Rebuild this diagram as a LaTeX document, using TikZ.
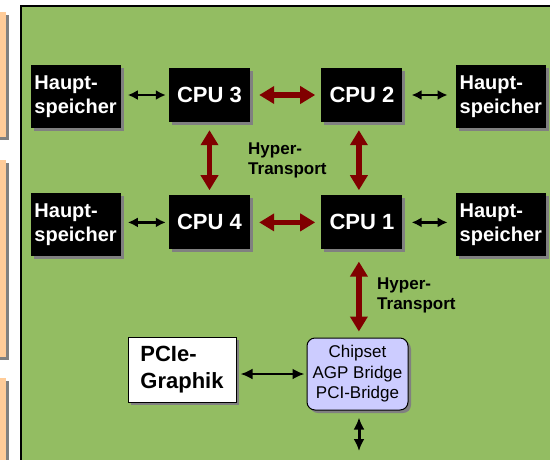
\documentclass[tikz,border=0pt]{standalone}
\usepackage{fontspec}
\setmainfont{Liberation Sans}
\usetikzlibrary{arrows.meta,shadows,positioning}

\definecolor{board}{RGB}{147,189,98}
\definecolor{panel}{RGB}{255,204,153}
\definecolor{htred}{RGB}{128,0,0}
\definecolor{chipfill}{RGB}{204,204,255}

\begin{document}
\begin{tikzpicture}[x=1pt,y=-1pt,node distance=10pt]
\tikzstyle{shade}=[drop shadow={shadow xshift=3pt,shadow yshift=-3pt,opacity=1,fill=gray}]
\tikzstyle{cpu}=[shade,fill=black,text=white,font=\fontsize{22}{26}\selectfont\bfseries,minimum width=81pt,minimum height=54pt,inner sep=0pt]
\tikzstyle{memory}=[shade,fill=black,text=white,font=\fontsize{20}{24}\selectfont\bfseries,align=left,minimum width=90pt,minimum height=63pt,inner sep=0pt]
\tikzstyle{ht}=[htred,line width=5.5pt,{Triangle[length=15pt,width=17pt]}-{Triangle[length=15pt,width=17pt]}]
\tikzstyle{link}=[line width=2.5pt,{Latex[length=10pt,width=10pt]}-{Latex[length=10pt,width=10pt]}]
\tikzstyle{htlabel}=[font=\fontsize{17}{20}\selectfont\bfseries,align=left,inner sep=0pt,anchor=west]

\useasboundingbox (0,0) rectangle (550,459);

% panels on the left and the board
\fill[panel,shade] (-5,12) rectangle (6,137);
\fill[panel,shade] (-5,160) rectangle (6,357);
\fill[panel,shade] (-5,378) rectangle (6,480);
\draw[fill=board,line width=1.5pt] (21,6) rectangle (580,490);

\node[cpu] (cpu3) at (209.5,95) {CPU 3};
\node[cpu,right=71pt of cpu3] (cpu2) {CPU 2};
\node[cpu,below=73pt of cpu3] (cpu4) {CPU 4};
\node[cpu,below=73pt of cpu2] (cpu1) {CPU 1};

\node[memory,left=48pt of cpu3,yshift=-1.5pt] (mem3) {Haupt-\\speicher};
\node[memory,right=53pt of cpu2,yshift=-1.5pt] (mem2) {Haupt-\\speicher};
\node[memory,left=48pt of cpu4,yshift=-2pt] (mem4) {Haupt-\\speicher};
\node[memory,right=53pt of cpu1,yshift=-2pt] (mem1) {Haupt-\\speicher};

\node[shade,draw,fill=white,line width=1pt,font=\fontsize{22}{26.5}\selectfont\bfseries,align=left,minimum width=108pt,minimum height=65pt,inner sep=0pt] (gfx) at (182,369.5) {PCIe-\\Graphik};
\node[shade,draw,fill=chipfill,rounded corners=8pt,line width=1pt,font=\fontsize{17}{20.5}\selectfont,align=center,minimum width=101pt,minimum height=72pt,inner sep=0pt] (chipset) at (357.5,374) {Chipset\\AGP Bridge\\PCI-Bridge};
\coordinate (pci) at (359,451);

\node[htlabel] (ht1) at (248,160) {Hyper-\\Transport};
\node[htlabel] (ht2) at (377,295) {Hyper-\\Transport};

% HyperTransport links
\draw[ht,shorten <=9pt,shorten >=6pt] (cpu3) -- (cpu2);
\draw[ht,shorten <=9pt,shorten >=6pt] (cpu4) -- (cpu1);
\draw[ht,shorten <=8pt,shorten >=5pt] (cpu3) -- (cpu4);
\draw[ht,shorten <=8pt,shorten >=5pt] ([xshift=-3pt]cpu2.south) -- ([xshift=-3pt]cpu1.north);
\draw[ht,shorten <=12pt,shorten >=6pt] ([xshift=-3pt]cpu1.south) -- ([xshift=-3pt]cpu1.south |- chipset.north);

% memory and chipset links
\draw[link,shorten <=7pt,shorten >=3pt] (mem3.east |- cpu3) -- (cpu3.west);
\draw[link,shorten <=9pt,shorten >=8pt] (cpu2.east) -- (mem2.west |- cpu2);
\draw[link,shorten <=7pt,shorten >=3pt] (mem4.east |- cpu4) -- (cpu4.west);
\draw[link,shorten <=9pt,shorten >=8pt] (cpu1.east) -- (mem1.west |- cpu1);
\draw[line width=2.5pt,{Latex[length=12pt,width=11pt]}-{Latex[length=12pt,width=11pt]},shorten <=4pt,shorten >=2pt] (gfx.east |- chipset.west) -- (chipset.west);
\draw[line width=3pt,{Latex[length=12pt,width=11pt]}-{Latex[length=12pt,width=11pt]},shorten <=7pt] (chipset.south -| pci) -- (pci);
\end{tikzpicture}
\end{document}
